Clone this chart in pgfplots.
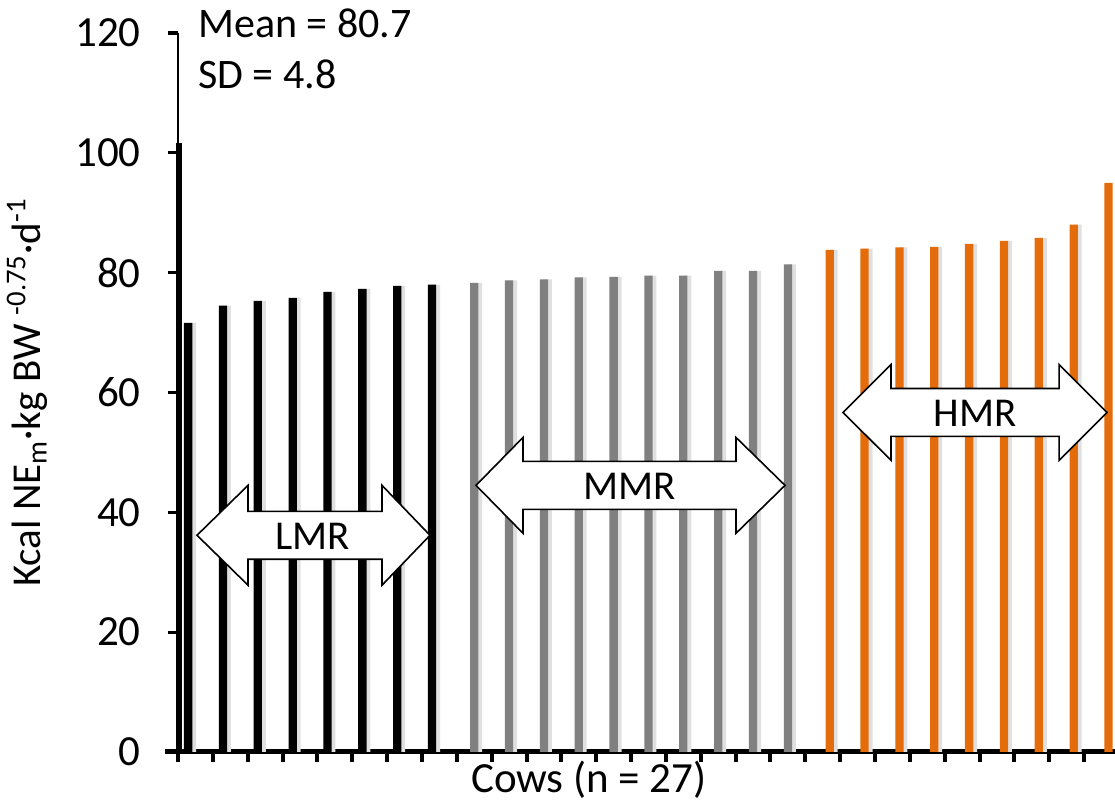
\documentclass[border=0pt]{standalone}
\usepackage{pgfplots}
\pgfplotsset{compat=1.18}
\usepackage{fontspec}
\setmainfont{Carlito}
\definecolor{barorange}{RGB}{228,108,10}
\definecolor{bargray}{RGB}{128,128,128}
\newcommand{\fs}{\fontsize{21}{25}\selectfont}
\newcommand{\fa}{\fontsize{20.5}{24}\selectfont}
\newcommand{\ft}{\fontsize{21.5}{25}\selectfont}
\begin{document}
\begin{tikzpicture}
\begin{axis}[
  at={(0,0)}, anchor=south west,
  scale only axis, width=470.5pt, height=359.5pt,
  xmin=0, xmax=27, ymin=0, ymax=120,
  enlargelimits=false, clip=false,
  axis x line=bottom, axis y line=left,
  x axis line style={line width=2.5pt,-},
  y axis line style={line width=0.75pt,-},
  xtick={0,...,26}, xticklabels={},
  ytick={0,20,...,120},
  tick align=outside,
  major tick length=5pt,
  x tick style={line width=2pt, black},
  y tick style={line width=1.6pt, black},
  yticklabel style={font=\ft, anchor=east, inner sep=0pt, xshift=-13.5pt},
  /pgf/number format/assume math mode=true,
  ybar, bar width=4.15pt, bar shift=0pt,
]
% shadows
\addplot[fill=black!12, draw=none, bar shift=1.9pt] coordinates {(0.29,71.6)(1.29,74.5)(2.29,75.3)(3.29,75.8)(4.29,76.8)(5.29,77.3)(6.29,77.8)(7.29,78.0)};
\addplot[fill=black!12, draw=none, bar shift=1.9pt] coordinates {(8.5,78.3)(9.5,78.7)(10.5,78.9)(11.5,79.2)(12.5,79.3)(13.5,79.5)(14.5,79.5)(15.5,80.3)(16.5,80.3)(17.5,81.4)};
\addplot[fill=black!12, draw=none, bar shift=1.9pt] coordinates {(18.7,83.8)(19.7,84.0)(20.7,84.2)(21.7,84.3)(22.7,84.8)(23.7,85.3)(24.7,85.8)(25.7,88.0)};
% bars
\addplot[fill=black, draw=none] coordinates {(0.29,71.6)(1.29,74.5)(2.29,75.3)(3.29,75.8)(4.29,76.8)(5.29,77.3)(6.29,77.8)(7.29,78.0)};
\addplot[fill=bargray, draw=none] coordinates {(8.5,78.3)(9.5,78.7)(10.5,78.9)(11.5,79.2)(12.5,79.3)(13.5,79.5)(14.5,79.5)(15.5,80.3)(16.5,80.3)(17.5,81.4)};
\addplot[fill=barorange, draw=none] coordinates {(18.7,83.8)(19.7,84.0)(20.7,84.2)(21.7,84.3)(22.7,84.8)(23.7,85.3)(24.7,85.8)(25.7,88.0)(26.7,95.0)};
% thick segment on the y axis
\addplot[sharp plot, line width=3pt, black] coordinates {(0.03,0) (0.03,101.7)};
% extension of x axis line to the left
\draw[line width=2.5pt] (axis cs:-0.37,0) -- (axis cs:0,0);
% arrows
\draw[fill=white, line width=0.8pt, line join=miter] (axis cs:0.545,36.17) -- (axis cs:2.009,44.5) -- (axis cs:2.009,40.17) -- (axis cs:5.854,40.17) -- (axis cs:5.854,44.5) -- (axis cs:7.231,36.17) -- (axis cs:5.854,27.84) -- (axis cs:5.854,32.17) -- (axis cs:2.009,32.17) -- (axis cs:2.009,27.84) -- cycle;
\node[font=\fa] at (axis cs:3.87,36.0) {LMR};
\draw[fill=white, line width=0.8pt, line join=miter] (axis cs:8.551,44.5) -- (axis cs:9.900,52.5) -- (axis cs:9.900,48.5) -- (axis cs:16.011,48.5) -- (axis cs:16.011,52.5) -- (axis cs:17.418,44.5) -- (axis cs:16.011,36.5) -- (axis cs:16.011,40.5) -- (axis cs:9.900,40.5) -- (axis cs:9.900,36.5) -- cycle;
\node[font=\fa] at (axis cs:12.97,44.3) {MMR};
\draw[fill=white, line width=0.8pt, line join=miter] (axis cs:19.082,56.67) -- (axis cs:20.459,64.67) -- (axis cs:20.459,60.67) -- (axis cs:25.280,60.67) -- (axis cs:25.280,64.67) -- (axis cs:26.657,56.67) -- (axis cs:25.280,48.67) -- (axis cs:25.280,52.67) -- (axis cs:20.459,52.67) -- (axis cs:20.459,48.67) -- cycle;
\node[font=\fa] at (axis cs:22.87,56.5) {HMR};
% texts
\node[font=\fs, anchor=base west, inner sep=0pt] at (axis cs:0.57,119.17) {Mean = 80.7};
\node[font=\fs, anchor=base west, inner sep=0pt] at (axis cs:0.57,110.67) {SD = 4.8};
\node[font=\ft, anchor=base, inner sep=0pt] at (axis cs:11.79,-6.83) {Cows (n = 27)};
\node[font=\fa, anchor=base, inner sep=0pt, rotate=90] at (axis cs:-3.95,60) {Kcal NE\textsubscript{m}·kg BW \textsuperscript{-0.75}·d\textsuperscript{-1}};
\end{axis}
\pgfresetboundingbox
\path[use as bounding box] (-89pt,-25.5pt) rectangle (468.5pt,376pt);
\end{tikzpicture}
\end{document}
